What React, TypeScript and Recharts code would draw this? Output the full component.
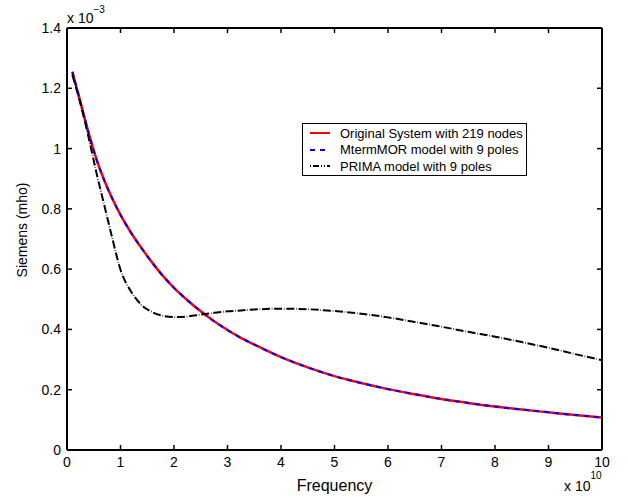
import { LineChart, Line, XAxis, YAxis, Legend, ReferenceLine } from 'recharts';

// frequency in units of 1e10 Hz, admittance in units of 1e-3 S
const freq = [0.1, 0.25, 0.4, 0.55, 0.7, 0.85, 1.0, 1.2, 1.4, 1.6, 1.8, 2.0, 2.25, 2.5, 2.75, 3.0, 3.25, 3.5, 4.0, 4.5, 5.0, 5.5, 6.0, 6.5, 7.0, 7.5, 8.0, 8.5, 9.0, 9.5, 10];
const originalSystem = [1.255, 1.155, 1.055, 0.965, 0.893, 0.833, 0.78, 0.72, 0.668, 0.62, 0.576, 0.538, 0.497, 0.46, 0.427, 0.398, 0.372, 0.35, 0.308, 0.274, 0.245, 0.222, 0.202, 0.185, 0.169, 0.156, 0.144, 0.134, 0.125, 0.116, 0.108];
const mtermMor = [1.255, 1.155, 1.055, 0.965, 0.893, 0.833, 0.78, 0.72, 0.668, 0.62, 0.576, 0.538, 0.497, 0.46, 0.427, 0.398, 0.372, 0.35, 0.308, 0.274, 0.245, 0.222, 0.202, 0.185, 0.169, 0.156, 0.144, 0.134, 0.125, 0.116, 0.108];
const prima = [1.245, 1.15, 1.04, 0.92, 0.81, 0.7, 0.598, 0.525, 0.48, 0.457, 0.445, 0.441, 0.443, 0.449, 0.455, 0.46, 0.463, 0.466, 0.469, 0.467, 0.461, 0.452, 0.44, 0.425, 0.409, 0.392, 0.376, 0.358, 0.339, 0.318, 0.298];

const xTicks = [0, 1, 2, 3, 4, 5, 6, 7, 8, 9, 10];
const yTicks = [0, 0.2, 0.4, 0.6, 0.8, 1, 1.2, 1.4];
const legendNames = ['Original System with 219 nodes', 'MtermMOR model with 9 poles', 'PRIMA model with 9 poles'];

const data = freq.map((f, i) => ({ f, orig: originalSystem[i], mterm: mtermMor[i], prima: prima[i] }));

const FONT = '"Liberation Sans", Arial, Helvetica, sans-serif';
const X_MAX = 10;
const Y_MAX = 1.4;
// inward tick length (~5px) expressed in axis units
const TICK_DX = (X_MAX * 5) / 535;
const TICK_DY = (Y_MAX * 5) / 422;

function LegendBox() {
  const samples = [
    { stroke: '#ff0000', dash: undefined },
    { stroke: '#0000ff', dash: '5 5' },
    { stroke: '#000000', dash: '1 2 6 2 1 2' },
  ];
  return (
    <div style={{ width: 223, height: 51, border: '1px solid #000', background: '#fff', fontFamily: FONT, fontSize: 13, position: 'relative' }}>
      {legendNames.map((n, i) => (
        <div key={n} style={{ position: 'absolute', left: 0, top: 1 + i * 16.7, height: 16, display: 'flex', alignItems: 'center' }}>
          <svg width={36} height={16}>
            <line x1={7} x2={27} y1={8} y2={8} stroke={samples[i].stroke} strokeWidth={2} strokeDasharray={samples[i].dash} />
          </svg>
          <span style={{ marginLeft: 1, whiteSpace: 'nowrap' }}>{n}</span>
        </div>
      ))}
    </div>
  );
}

export default function App() {
  const tickSegs: [number, number, number, number][] = [];
  xTicks.slice(1, -1).forEach((t) => {
    tickSegs.push([t, 0, t, TICK_DY]);
    tickSegs.push([t, Y_MAX, t, Y_MAX - TICK_DY]);
  });
  yTicks.slice(1, -1).forEach((t) => {
    tickSegs.push([0, t, TICK_DX, t]);
    tickSegs.push([X_MAX, t, X_MAX - TICK_DX, t]);
  });

  return (
    <div style={{ position: 'absolute', left: 0, top: 0, background: '#fff' }}>
      <LineChart width={628} height={498} data={data} margin={{ top: 28, right: 26, bottom: 0, left: 0 }} style={{ fontFamily: FONT }}>
        <XAxis
          dataKey="f"
          type="number"
          domain={[0, X_MAX]}
          ticks={xTicks}
          height={48}
          tickLine={false}
          tickSize={0}
          tickMargin={7}
          stroke="#000"
          strokeWidth={2}
          tick={{ fill: '#000', fontSize: 14 }}
          label={{
            content: ({ viewBox }: any) => (
              <g fontFamily={FONT} fill="#000">
                <text x={viewBox.x + viewBox.width / 2} y={viewBox.y + 41} textAnchor="middle" fontSize={16}>Frequency</text>
                <text x={viewBox.x + viewBox.width - 38} y={viewBox.y + 41} fontSize={14}>
                  x 10<tspan dy={-12} fontSize={10}>10</tspan>
                </text>
              </g>
            ),
          }}
        />
        <YAxis
          type="number"
          domain={[0, Y_MAX]}
          ticks={yTicks}
          width={67}
          tickLine={false}
          tickSize={0}
          tickMargin={6}
          stroke="#000"
          strokeWidth={2}
          tick={{ fill: '#000', fontSize: 14 }}
          label={{
            content: ({ viewBox }: any) => (
              <g fontFamily={FONT} fill="#000">
                <text x={22} y={230} textAnchor="middle" dominantBaseline="central" fontSize={14} transform="rotate(-90 22 230)">Siemens (mho)</text>
                <text x={viewBox.x + viewBox.width} y={viewBox.y - 5} fontSize={14}>
                  x 10<tspan dy={-10} fontSize={10}>−3</tspan>
                </text>
              </g>
            ),
          }}
        />
        {/* top and right edges of the box */}
        <XAxis xAxisId="top" orientation="top" mirror dataKey="f" type="number" domain={[0, X_MAX]} ticks={xTicks} height={1} tickLine={false} tick={false} stroke="#000" strokeWidth={2} />
        <YAxis yAxisId="right" orientation="right" mirror type="number" domain={[0, Y_MAX]} ticks={yTicks} width={1} tickLine={false} tick={false} stroke="#000" strokeWidth={2} />
        {tickSegs.map(([x1, y1, x2, y2], i) => (
          <ReferenceLine
            key={`tk${i}`}
            segment={[{ x: x1, y: y1 }, { x: x2, y: y2 }]}
            stroke="#000"
            strokeWidth={1.5}
            ifOverflow="visible"
          />
        ))}
        <Legend
          layout="horizontal"
          verticalAlign="middle"
          align="center"
          wrapperStyle={{ left: 302, top: 123, width: 225, height: 53 }}
          content={() => <LegendBox />}
        />
        <Line type="monotone" dataKey="orig" stroke="#ff0000" strokeWidth={2.5} dot={false} isAnimationActive={false} />
        <Line type="monotone" dataKey="mterm" stroke="#0000ff" strokeWidth={2} strokeDasharray="5 5" dot={false} isAnimationActive={false} />
        <Line type="monotone" dataKey="prima" stroke="#000000" strokeWidth={2} strokeDasharray="8 1.8 0.6 1.8" dot={false} isAnimationActive={false} />
      </LineChart>
    </div>
  );
}
